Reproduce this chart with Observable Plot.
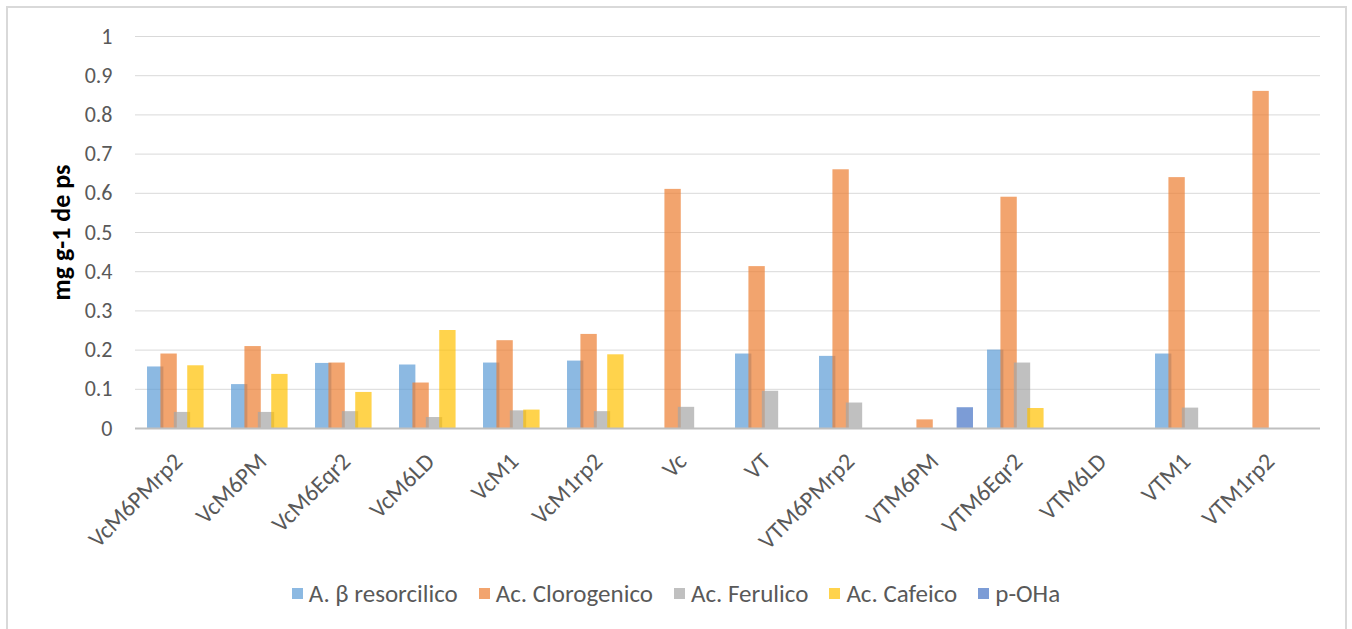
<!DOCTYPE html>
<html>
<head>
<meta charset="utf-8">
<script src="https://cdn.jsdelivr.net/npm/d3@7"></script>
<script src="https://cdn.jsdelivr.net/npm/@observablehq/plot@0.6"></script>
<style>
  html, body { margin: 0; padding: 0; background: #fff; }
  body { width: 1352px; height: 629px; overflow: hidden; font-family: Carlito, Calibri, Lato, sans-serif; }
  #wrap { position: relative; width: 1352px; height: 629px; }
  #frame { position: absolute; left: 6px; top: 6px; width: 1341px; height: 640px; border: 2px solid #D9D9D9; box-sizing: border-box; }
  #chart { position: absolute; left: 0; top: 0; }
  #legend { position: absolute; left: 0; top: 578px; width: 1352px; display: flex; justify-content: center; align-items: center; font-size: 25px; color: #595959; }
  .item { display: flex; align-items: center; margin: 0 10.5px; }
  .sw { width: 11px; height: 11px; margin-right: 6px; }
</style>
</head>
<body>
<div id="wrap">
  <div id="frame"></div>
  <div id="chart"></div>
  <div id="legend"></div>
</div>
<script>
const categories = ["VcM6PMrp2","VcM6PM","VcM6Eqr2","VcM6LD","VcM1","VcM1rp2","Vc","VT","VTM6PMrp2","VTM6PM","VTM6Eqr2","VTM6LD","VTM1","VTM1rp2"];
const seriesNames = ["A. β resorcilico","Ac. Clorogenico","Ac. Ferulico","Ac. Cafeico","p-OHa"];
const seriesColors = ["#5B9BD5","#ED7D31","#A5A5A5","#FFC000","#4472C4"];
const resorcilico = [0.157,0.112,0.166,0.162,0.167,0.172,0,0.190,0.184,0,0.200,0,0.190,0];
const clorogenico = [0.190,0.209,0.167,0.116,0.224,0.240,0.610,0.413,0.660,0.022,0.590,0,0.640,0.860];
const ferulico    = [0.041,0.041,0.043,0.028,0.045,0.043,0.054,0.095,0.065,0,0.167,0,0.052,0];
const cafeico     = [0.160,0.138,0.092,0.250,0.047,0.188,0,0,0,0,0.051,0,0,0];
const pOHa        = [0,0,0,0,0,0,0,0,0,0.053,0,0,0,0];
const yTicks = [0,0.1,0.2,0.3,0.4,0.5,0.6,0.7,0.8,0.9,1];
const yLabel = "mg g-1 de ps";

const seriesValues = [resorcilico, clorogenico, ferulico, cafeico, pOHa];

const W = 1352, H = 560, ML = 135, MR = 32, MT = 36, MB = 132;
const band = (W - ML - MR) / categories.length;
const barW = 17, step = 13.4;
const groupW = step * (seriesNames.length - 1) + barW;
const start = (band - groupW) / 2;

const barMarks = seriesValues.map((vals, j) => {
  const data = categories.map((c, i) => ({cat: c, value: vals[i]})).filter(d => d.value > 0);
  const il = start + j * step;
  return Plot.barY(data, {
    x: "cat", y: "value",
    fill: seriesColors[j], fillOpacity: 0.7,
    insetLeft: il, insetRight: band - il - barW
  });
});

const chart = Plot.plot({
  width: W, height: H,
  marginLeft: ML, marginRight: MR, marginTop: MT, marginBottom: MB,
  style: {fontFamily: "Carlito, Calibri, Lato, sans-serif", background: "transparent", overflow: "visible"},
  x: {type: "band", domain: categories, padding: 0, label: null},
  y: {domain: [0, 1], label: null, axis: null},
  marks: [
    Plot.ruleY(yTicks.slice(1), {stroke: "#D9D9D9", strokeWidth: 1}),
    ...barMarks,
    Plot.ruleY([0], {stroke: "#BFBFBF", strokeWidth: 2}),
    Plot.text(yTicks, {y: d => d, frameAnchor: "left", dx: -23, textAnchor: "end",
      text: d => String(+d.toFixed(1)), fontSize: 22, fill: "#595959"}),
    Plot.axisX({tickSize: 0, tickRotate: -45, tickPadding: 29, dx: -4, fontSize: 24, fill: "#595959",
      textAnchor: "end", label: null}),
    Plot.text([yLabel], {frameAnchor: "left", dx: -74, rotate: -90, textAnchor: "middle",
      fontSize: 26, fontWeight: "bold", fill: "#000"})
  ]
});
document.getElementById("chart").appendChild(chart);

const legend = document.getElementById("legend");
seriesNames.forEach((name, j) => {
  const item = document.createElement("div");
  item.className = "item";
  const sw = document.createElement("span");
  sw.className = "sw";
  sw.style.background = seriesColors[j];
  sw.style.opacity = 0.7;
  const t = document.createElement("span");
  t.textContent = name;
  item.appendChild(sw); item.appendChild(t);
  legend.appendChild(item);
});
</script>
</body>
</html>
